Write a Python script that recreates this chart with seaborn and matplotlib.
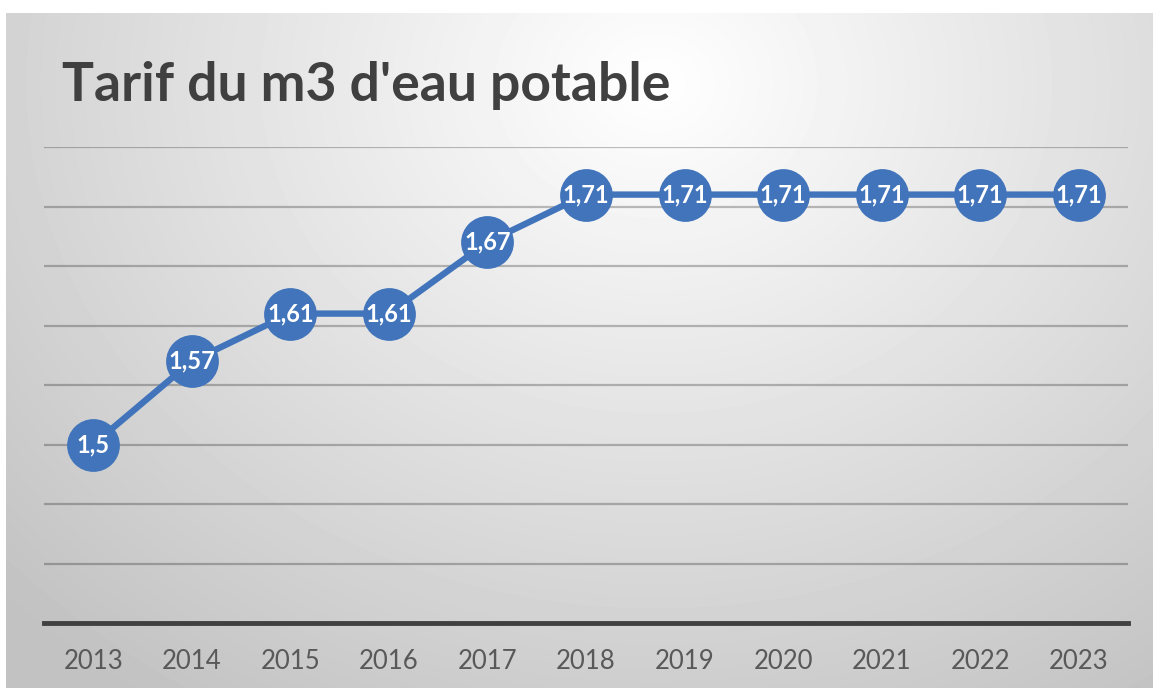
import matplotlib.pyplot as plt
import numpy as np
import seaborn as sns
import pandas as pd

years = ["2013", "2014", "2015", "2016", "2017", "2018",
         "2019", "2020", "2021", "2022", "2023"]
tarif = [1.5, 1.57, 1.61, 1.61, 1.67, 1.71, 1.71, 1.71, 1.71, 1.71, 1.71]
title = "Tarif du m3 d'eau potable"

df = pd.DataFrame({"annee": years, "tarif": tarif})

sns.set_theme(style="white")
plt.rcParams["font.family"] = ["Lato", "DejaVu Sans"]

W, H = 1153, 688
fig = plt.figure(figsize=(W / 100, H / 100), dpi=100)
fig.patch.set_facecolor("white")

# radial grey gradient panel behind the chart
bg = fig.add_axes([6 / W, 0, 1 - 6 / W, 1 - 13 / H])
bg.set_axis_off()
yy, xx = np.mgrid[0:675, 0:1147]
d = np.sqrt((xx - 650) ** 2 + ((yy - 70) * 1.2) ** 2)
t = np.clip(d / 900, 0, 1)
shade = 1.0 - t * (1.0 - 0.76)
bg.imshow(shade, cmap="gray", vmin=0, vmax=1, aspect="auto",
          extent=[0, 1, 0, 1], origin="upper")
bg.set_xlim(0, 1)
bg.set_ylim(0, 1)

ax = fig.add_axes([44 / W, 1 - 623 / H, (1128 - 44) / W, (623 - 147) / H])
ax.patch.set_alpha(0)

blue = "#4174bb"
sns.lineplot(data=df, x="annee", y="tarif", ax=ax, color=blue, linewidth=4.6,
             marker="o", markersize=38, markeredgewidth=0, sort=False, zorder=3)

for i, v in enumerate(tarif):
    lab = f"{v:g}".replace(".", ",")
    ax.text(i, v, lab, ha="center", va="center", color="white",
            fontsize=17, fontweight="bold", zorder=4)

ax.set_xlim(-0.5, len(years) - 0.5)
ax.set_ylim(1.35, 1.75)
ax.set_yticks(np.arange(1.40, 1.76, 0.05))
ax.yaxis.grid(True, color="black", alpha=0.25, linewidth=1.6)
ax.set_axisbelow(True)
ax.tick_params(axis="y", left=False, labelleft=False)
ax.tick_params(axis="x", bottom=False, labelsize=18.5, labelcolor="#595959", pad=13)
for s in ["top", "right", "left"]:
    ax.spines[s].set_visible(False)
ax.spines["bottom"].set_color("#404040")
ax.spines["bottom"].set_linewidth(3.5)
ax.set_xlabel("")
ax.set_ylabel("")

fig.text(62 / W, 1 - 86 / H, title, ha="left", va="center",
         fontsize=38.5, fontweight="bold", color="#404040")

fig.savefig("out.png", dpi=100)
